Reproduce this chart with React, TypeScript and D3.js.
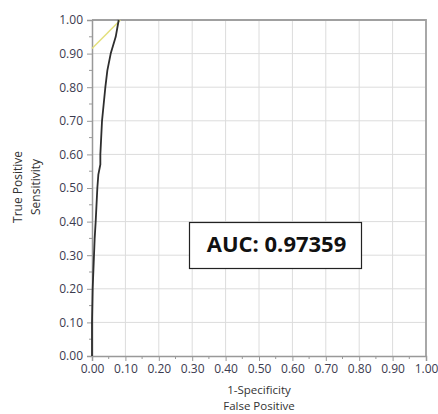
import React, { useEffect, useRef } from 'react';
import * as d3 from 'd3';

// ROC curve
const fpr = [0, 0.0, 0.002, 0.006, 0.008, 0.011, 0.016, 0.019, 0.025, 0.025, 0.030, 0.035, 0.040, 0.046, 0.056, 0.071, 0.080];
const tpr = [0, 0.10, 0.20, 0.30, 0.35, 0.40, 0.50, 0.54, 0.57, 0.60, 0.70, 0.75, 0.80, 0.85, 0.90, 0.95, 1.00];

// yellow reference line
const lineX = [0, 0.085];
const lineY = [0.915, 1.0];

const majorTicks = [0, 0.1, 0.2, 0.3, 0.4, 0.5, 0.6, 0.7, 0.8, 0.9, 1.0];
const minorTicks = [0.05, 0.15, 0.25, 0.35, 0.45, 0.55, 0.65, 0.75, 0.85, 0.95];
const aucText = 'AUC: 0.97359';

const W = 438;
const H = 414;
const FONT = '"Open Sans", "Noto Sans", sans-serif';

const App = () => {
  const ref = useRef<SVGSVGElement | null>(null);

  useEffect(() => {
    if (!ref.current) return;
    const svg = d3.select(ref.current);
    svg.selectAll('*').remove();

    const x = d3.scaleLinear().domain([0, 1]).range([92, 426]);
    const y = d3.scaleLinear().domain([0, 1]).range([356, 20]);

    // grid
    const grid = svg.append('g');
    grid.selectAll('line.gx').data(majorTicks.slice(1)).join('line')
      .attr('x1', (d) => x(d)).attr('x2', (d) => x(d))
      .attr('y1', y(0)).attr('y2', y(1))
      .attr('stroke', '#dcdcdc').attr('stroke-width', 1);
    grid.selectAll('line.gy').data(majorTicks.slice(1)).join('line')
      .attr('x1', x(0)).attr('x2', x(1))
      .attr('y1', (d) => y(d)).attr('y2', (d) => y(d))
      .attr('stroke', '#dcdcdc').attr('stroke-width', 1);

    // right / top frame
    svg.append('path')
      .attr('d', `M${x(0)},${y(1)}H${x(1)}V${y(0)}`)
      .attr('fill', 'none').attr('stroke', '#a0a0a0').attr('stroke-width', 1.8);

    const fmt = d3.format('.2f');

    // y axis
    const ya = svg.append('g').attr('transform', `translate(${x(0)},0)`)
      .call(d3.axisLeft(y).tickValues(majorTicks).tickFormat((d) => fmt(d as number)).tickSize(5).tickPadding(4));
    ya.append('g').selectAll('line').data(minorTicks).join('line')
      .attr('x1', 0).attr('x2', -3).attr('y1', (d) => y(d)).attr('y2', (d) => y(d))
      .attr('stroke', '#999');

    // x axis
    const xa = svg.append('g').attr('transform', `translate(0,${y(0)})`)
      .call(d3.axisBottom(x).tickValues(majorTicks).tickFormat((d) => fmt(d as number)).tickSize(5).tickPadding(3));
    xa.append('g').selectAll('line').data(minorTicks).join('line')
      .attr('y1', 0).attr('y2', 3).attr('x1', (d) => x(d)).attr('x2', (d) => x(d))
      .attr('stroke', '#999');

    [ya, xa].forEach((a) => {
      a.select('.domain').attr('stroke', '#999').attr('stroke-width', 1.5);
      a.selectAll('.tick line').attr('stroke', '#999');
      a.selectAll('.tick text').attr('fill', '#3b3b4f').style('font-family', FONT).style('font-size', '12px');
    });

    // yellow line
    svg.append('path')
      .datum(d3.zip(lineX, lineY))
      .attr('d', d3.line<number[]>().x((d) => x(d[0])).y((d) => y(d[1])))
      .attr('fill', 'none').attr('stroke', '#e3df7c').attr('stroke-width', 1.5);

    // ROC curve
    svg.append('path')
      .datum(d3.zip(fpr, tpr))
      .attr('d', d3.line<number[]>().x((d) => x(d[0])).y((d) => y(d[1])))
      .attr('fill', 'none').attr('stroke', '#2e2e2e').attr('stroke-width', 1.8)
      .attr('stroke-linejoin', 'round');

    // axis titles
    const yt = svg.append('text')
      .attr('transform', `translate(22,187) rotate(-90)`)
      .attr('text-anchor', 'middle')
      .style('font-family', FONT).style('font-size', '12px').attr('fill', '#333');
    yt.append('tspan').attr('x', 0).attr('dy', 0).text('True Positive');
    yt.append('tspan').attr('x', 0).attr('dy', 18).text('Sensitivity');

    svg.append('text')
      .attr('x', 259).attr('y', 394).attr('text-anchor', 'middle')
      .style('font-family', FONT).style('font-size', '11.5px').attr('fill', '#333')
      .text('1-Specificity');
    svg.append('text')
      .attr('x', 259).attr('y', 410).attr('text-anchor', 'middle')
      .style('font-family', FONT).style('font-size', '11.5px').attr('fill', '#333')
      .text('False Positive');

    // AUC box
    svg.append('rect')
      .attr('x', 189.5).attr('y', 222.5).attr('width', 172).attr('height', 46)
      .attr('fill', '#fff').attr('stroke', '#222').attr('stroke-width', 1.2);
    svg.append('text')
      .attr('x', 276.5).attr('y', 251.5)
      .attr('text-anchor', 'middle')
      .style('font-family', FONT).style('font-size', '22px').style('font-weight', 'bold')
      .attr('fill', '#111')
      .text(aucText);
  }, []);

  return (
    <svg ref={ref} width={W} height={H}
      style={{ position: 'absolute', left: 0, top: 0, background: '#fff', display: 'block' }} />
  );
};

export default App;
